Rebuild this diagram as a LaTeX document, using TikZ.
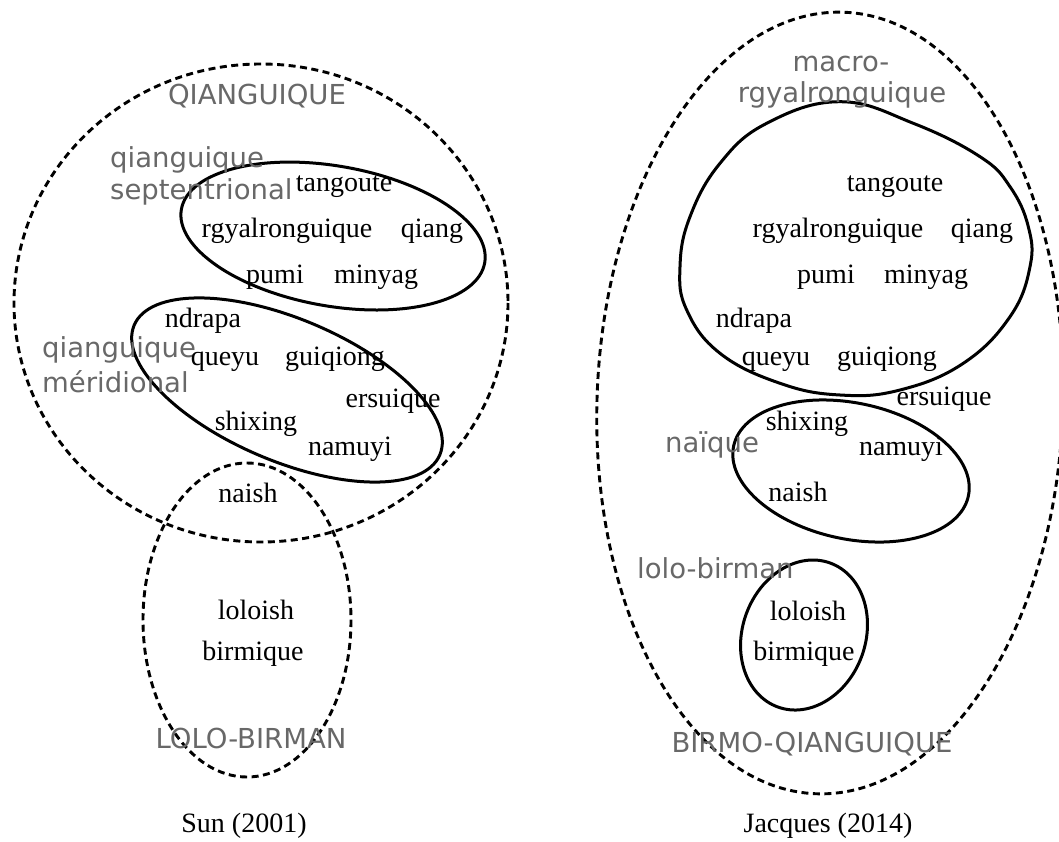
\documentclass[tikz,border=0pt]{standalone}
\usepackage{fontspec}
\setmainfont{Liberation Serif}
\newfontfamily\lblfont{DejaVu Sans}
\definecolor{lblgray}{RGB}{104,104,104}
\begin{document}
\begin{tikzpicture}[x=1pt,y=-1pt,
  lang/.style={inner sep=0pt,anchor=base,font=\fontsize{28}{33}\selectfont},
  grp/.style={inner sep=0pt,anchor=base,text=lblgray,font=\lblfont\fontsize{27.5}{32}\selectfont},
  grpl/.style={grp,anchor=base west},
  dashedline/.style={line width=2.9pt,dash pattern=on 7pt off 4.5pt},
  solidline/.style={line width=3pt}]
\useasboundingbox (0,0) rectangle (1059,842);

% ---------- left: Sun (2001)
\coordinate (cQ) at (261,303);
\coordinate (cS) at (333,236);
\coordinate (cM) at (287,390);
\coordinate (cL) at (247,620);
\draw[dashedline] (cQ) ellipse [x radius=247, y radius=239];
\draw[dashedline] (cL) ellipse [x radius=104, y radius=157];
\draw[solidline, rotate around={-10:(cS)}] (cS) ellipse [x radius=154, y radius=70];
\draw[solidline, rotate around={-23:(cM)}] (cM) ellipse [x radius=166, y radius=71];

\node[grp] (Lqiang) at (257,105) {QIANGUIQUE};
\node[grpl] (Lsep1) at (110,168) {qianguique};
\node[grpl] (Lsep2) at (110,200) {septentrional};
\node[grpl] (Lmer1) at (42,357) {qianguique};
\node[grpl] (Lmer2) at (42,392) {méridional};
\node[grp] (Llolo) at (251,748) {LOLO-BIRMAN};

\node[lang] (Ltangoute) at (344,192) {tangoute};
\node[lang] (Lrgyal) at (287,238) {rgyalronguique};
\node[lang] (Lqiang2) at (432,237) {qiang};
\node[lang] (Lpumi) at (275,283) {pumi};
\node[lang] (Lminyag) at (376,283) {minyag};
\node[lang] (Lndrapa) at (203,327) {ndrapa};
\node[lang] (Lqueyu) at (225,365) {queyu};
\node[lang] (Lguiqiong) at (335,365) {guiqiong};
\node[lang] (Lersuique) at (393,407) {ersuique};
\node[lang] (Lshixing) at (256,430) {shixing};
\node[lang] (Lnamuyi) at (350,455) {namuyi};
\node[lang] (Lnaish) at (248,502) {naish};
\node[lang] (Lloloish) at (256,619) {loloish};
\node[lang] (Lbirmique) at (253,660) {birmique};
\node[lang] (Lsun) at (244,832) {Sun (2001)};

% ---------- right: Jacques (2014)
\coordinate (cB) at (830,403);
\coordinate (cN) at (851,471);
\coordinate (cR) at (804,635);
\draw[dashedline, rotate around={-2:(cB)}] (cB) ellipse [x radius=233, y radius=391];
\draw[solidline] plot[smooth cycle, tension=0.7] coordinates {
  (840,101.7) (913.3,123.3) (980,156.7) (1010,186.7) (1028.3,226.7)
  (1030,266.7) (1010,316.7) (963.3,363.3) (900,390) (840,395)
  (780,383.3) (720,353.3) (686.7,310) (680,266.7) (690,216.7)
  (720,163.3) (766.7,123.3)};
\draw[solidline, rotate around={-12:(cN)}] (cN) ellipse [x radius=120, y radius=68];
\draw[solidline, rotate around={-20:(cR)}] (cR) ellipse [x radius=61.5, y radius=76.6];

\node[grp] (Rmacro1) at (841,72) {macro-};
\node[grp] (Rmacro2) at (842,103) {rgyalronguique};
\node[grpl] (Rnaique) at (665,452) {naïque};
\node[grpl] (Rlolo) at (637,578) {lolo-birman};
\node[grp] (Rbirmo) at (812,752) {BIRMO-QIANGUIQUE};

\node[lang] (Rtangoute) at (895,192) {tangoute};
\node[lang] (Rrgyal) at (838,237) {rgyalronguique};
\node[lang] (Rqiang) at (982,237) {qiang};
\node[lang] (Rpumi) at (826,283) {pumi};
\node[lang] (Rminyag) at (926,283) {minyag};
\node[lang] (Rndrapa) at (754,327) {ndrapa};
\node[lang] (Rqueyu) at (776,365) {queyu};
\node[lang] (Rguiqiong) at (887,365) {guiqiong};
\node[lang] (Rersuique) at (944,405) {ersuique};
\node[lang] (Rshixing) at (807,430) {shixing};
\node[lang] (Rnamuyi) at (901,455) {namuyi};
\node[lang] (Rnaish) at (798,501) {naish};
\node[lang] (Rloloish) at (808,620) {loloish};
\node[lang] (Rbirmique) at (804,660) {birmique};
\node[lang] (Rjacques) at (828,832) {Jacques (2014)};
\end{tikzpicture}
\end{document}
